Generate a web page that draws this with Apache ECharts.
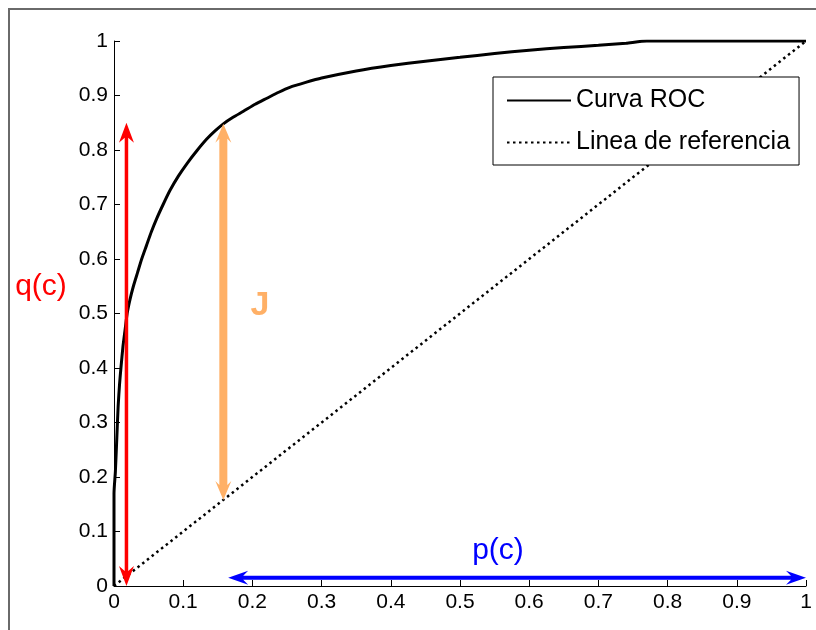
<!DOCTYPE html>
<html>
<head>
<meta charset="utf-8">
<style>
  html, body { margin: 0; padding: 0; background: #fff; }
  #chart { width: 816px; height: 630px; }
</style>
<script src="https://cdn.jsdelivr.net/npm/echarts@6/dist/echarts.min.js"></script>
</head>
<body>
<div id="chart"></div>
<script>
// ---- data ----
const seriesNames = ['Curva ROC', 'Linea de referencia'];
const rocX = [0, 0, 0.002, 0.004, 0.006, 0.008, 0.010, 0.013, 0.016, 0.019, 0.023, 0.028, 0.034, 0.040, 0.047, 0.054, 0.062, 0.071, 0.081, 0.093, 0.106, 0.120, 0.134, 0.146, 0.158, 0.172, 0.187, 0.204, 0.221, 0.238, 0.254, 0.277, 0.300, 0.350, 0.400, 0.450, 0.500, 0.550, 0.600, 0.650, 0.700, 0.740, 0.770, 1.0];
const rocY = [0, 0.17, 0.21, 0.27, 0.33, 0.37, 0.40, 0.44, 0.47, 0.50, 0.525, 0.55, 0.575, 0.60, 0.625, 0.65, 0.675, 0.70, 0.726, 0.752, 0.776, 0.799, 0.820, 0.835, 0.848, 0.860, 0.871, 0.884, 0.895, 0.906, 0.915, 0.924, 0.932, 0.945, 0.955, 0.963, 0.970, 0.977, 0.983, 0.988, 0.992, 0.996, 1.0, 1.0];
const refX = [0, 1];
const refY = [0, 1];
// arrows: [x1, y1, x2, y2]
const arrowQ = [0.018, 0.0, 0.018, 0.85];
const arrowJ = [0.158, 0.158, 0.158, 0.848];
const arrowP = [0.165, 0.015, 1.0, 0.015];
const axisMin = 0, axisMax = 1, tickStep = 0.1;
const labelQ = 'q(c)', labelP = 'p(c)', labelJ = 'J';

// ---- helpers ----
function zip(a, b) { return a.map((v, i) => [v, b[i]]); }

function arrowRenderer(shaftW, headL, headW, notch, color) {
  return function (params, api) {
    const p1 = api.coord([api.value(0), api.value(1)]);
    const p2 = api.coord([api.value(2), api.value(3)]);
    const dx = p2[0] - p1[0], dy = p2[1] - p1[1];
    const len = Math.sqrt(dx * dx + dy * dy) || 1;
    const ux = dx / len, uy = dy / len;
    const nx = -uy, ny = ux;
    const hw = headW / 2, sw = shaftW / 2, back = headL - notch;
    const P = (base, a, b) => [base[0] + ux * a + nx * b, base[1] + uy * a + ny * b];
    const pts = [
      P(p1, 0, 0),
      P(p1, headL, hw),
      P(p1, back, sw),
      P(p2, -back, sw),
      P(p2, -headL, hw),
      P(p2, 0, 0),
      P(p2, -headL, -hw),
      P(p2, -back, -sw),
      P(p1, back, -sw),
      P(p1, headL, -hw)
    ];
    return { type: 'polygon', shape: { points: pts }, style: { fill: color } };
  };
}

const font = '"Liberation Sans", Arial, Helvetica, sans-serif';

const chart = echarts.init(document.getElementById('chart'), null, { renderer: 'canvas' });
chart.setOption({
  animation: false,
  backgroundColor: '#ffffff',
  grid: { left: 114, right: 10, top: 41, bottom: 44, containLabel: false },
  xAxis: {
    type: 'value', min: axisMin, max: axisMax, interval: tickStep,
    splitLine: { show: false },
    axisLine: { show: true, onZero: false, lineStyle: { color: '#000', width: 1 } },
    axisTick: { show: true, inside: true, length: 6, lineStyle: { color: '#000', width: 1 } },
    axisLabel: { color: '#000', fontSize: 21, fontFamily: font, margin: 6 }
  },
  yAxis: {
    type: 'value', min: axisMin, max: axisMax, interval: tickStep,
    splitLine: { show: false },
    axisLine: { show: true, onZero: false, lineStyle: { color: '#000', width: 1 } },
    axisTick: { show: true, inside: true, length: 6, lineStyle: { color: '#000', width: 1 } },
    axisLabel: { color: '#000', fontSize: 21, fontFamily: font, margin: 6 }
  },
  legend: {
    orient: 'vertical',
    left: 493, top: 77,
    data: seriesNames,
    itemStyle: { color: 'rgba(0,0,0,0)', borderWidth: 0, opacity: 0 },
    backgroundColor: '#fff',
    borderColor: '#000', borderWidth: 1, borderRadius: 0,
    padding: [11, 9, 10, 13],
    itemGap: 17,
    itemWidth: 64, itemHeight: 14,
    textStyle: { color: '#000', fontSize: 25, fontFamily: font },
    selectedMode: false
  },
  series: [
    {
      name: seriesNames[0], type: 'line', data: zip(rocX, rocY),
      symbol: 'none', smooth: 0.2,
      lineStyle: { color: '#000', width: 3 }, itemStyle: { color: '#000' }, z: 3
    },
    {
      name: seriesNames[1], type: 'line', data: zip(refX, refY),
      symbol: 'none',
      lineStyle: { color: '#000', width: 2.5, type: [2.5, 3.5] }, itemStyle: { color: '#000' }, z: 2
    },
    {
      type: 'custom', data: [arrowQ], encode: { x: [0, 2], y: [1, 3] },
      renderItem: arrowRenderer(3.5, 20, 15, 5, '#FF0000'), z: 4, silent: true
    },
    {
      type: 'custom', data: [arrowJ], encode: { x: [0, 2], y: [1, 3] },
      renderItem: arrowRenderer(8, 19, 16, 4, '#FFB066'), z: 4, silent: true
    },
    {
      type: 'custom', data: [arrowP], encode: { x: [0, 2], y: [1, 3] },
      renderItem: arrowRenderer(4, 20, 14, 5, '#0000FF'), z: 4, silent: true
    }
  ],
  graphic: [
    {
      type: 'rect', z: -10, silent: true,
      shape: { x: 9, y: 9, width: 1000, height: 1000 },
      style: { fill: 'none', stroke: '#6a6a6a', lineWidth: 2 }
    },
    {
      type: 'text', x: 41, y: 287, z: 10,
      style: { text: labelQ, fill: '#FF0000', font: '30px ' + font, align: 'center', verticalAlign: 'middle' }
    },
    {
      type: 'text', x: 498, y: 551, z: 10,
      style: { text: labelP, fill: '#0000FF', font: '30px ' + font, align: 'center', verticalAlign: 'middle' }
    },
    {
      type: 'text', x: 260, y: 306, z: 10,
      style: { text: labelJ, fill: '#FFB066', font: 'bold 34px ' + font, align: 'center', verticalAlign: 'middle' }
    }
  ]
});
</script>
</body>
</html>
